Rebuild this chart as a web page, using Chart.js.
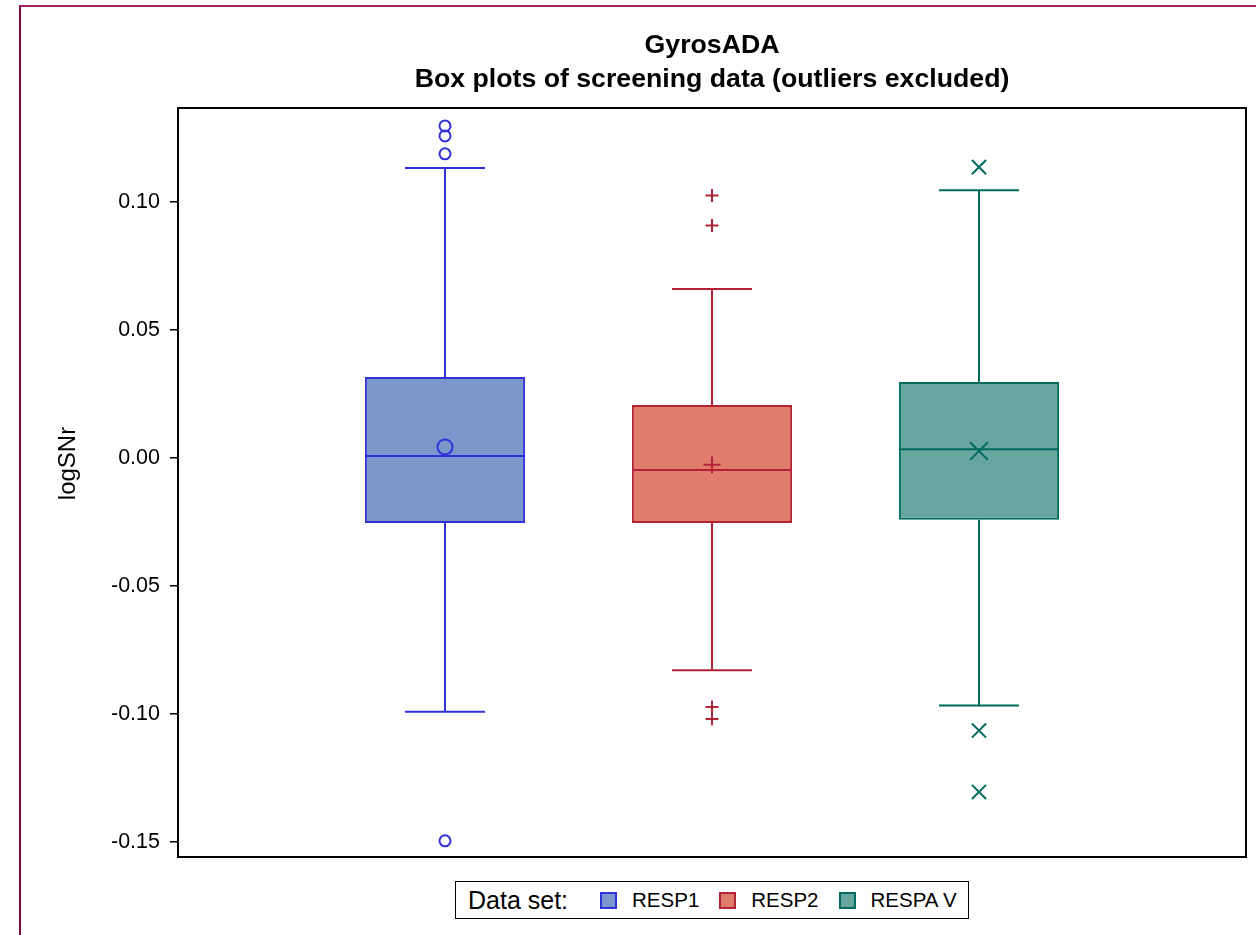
<!DOCTYPE html>
<html>
<head>
<meta charset="utf-8">
<title>GyrosADA box plots</title>
<script src="https://cdn.jsdelivr.net/npm/chart.js@4.4.1/dist/chart.umd.min.js"></script>
<style>
  html, body { margin: 0; padding: 0; background: #fff; }
  body { width: 1256px; height: 935px; position: relative; overflow: hidden;
         font-family: "Liberation Sans", Arial, Helvetica, sans-serif; }
  #page-frame { position: absolute; left: 19px; top: 5px; width: 1300px; height: 1000px;
                border-top: 2px solid #a3236b; border-left: 2px solid #7a1030; box-sizing: border-box; }
  #wrap { position: absolute; left: 0; top: 0; width: 1256px; height: 935px; }
  #legend { position: absolute; top: 881px; height: 38px; box-sizing: border-box;
            border: 1.5px solid #000; background: #fff; display: flex; align-items: center;
            padding: 0 11px 0 12px; white-space: nowrap; color: #000; }
  #legend .lead { font-size: 25px; margin-right: 32px; }
  #legend .sw { width: 13px; height: 13px; border: 2px solid; margin-right: 15px; }
  #legend .lab { font-size: 20.5px; margin-right: 20px; }
  #legend .lab:last-child { margin-right: 0; }
</style>
</head>
<body>
<div id="page-frame"></div>
<div id="wrap"><canvas id="chart"></canvas></div>
<div id="legend"></div>
<script>
// Screening-data summary statistics per data set (logSNr)
const categories  = ['RESP1', 'RESP2', 'RESPA V'];
const q1          = [-0.0254, -0.0254, -0.0242];
const q3          = [ 0.0316,  0.0207,  0.0297];
const medians     = [ 0.0008, -0.0047,  0.0034];
const means       = [ 0.0043, -0.0027,  0.0027];
const whiskerLow  = [-0.0992, -0.0829, -0.0967];
const whiskerHigh = [ 0.1133,  0.0660,  0.1046];
const outliers    = [
  [0.1297, 0.1258, 0.1188, -0.1496],
  [0.1025, 0.0908, -0.0973, -0.1020],
  [0.1136, -0.1065, -0.1305]
];
const yMin = -0.1559;
const yMax = 0.1367;
const yStep = 0.05;
const yTitle = 'logSNr';

// Styling
const strokeColors  = ['#3131d9', '#b42238', '#006b5e'];
const fillColors    = ['#7b97cc', '#df7c6c', '#66a69f'];
const markerStyles  = ['circle', 'cross', 'crossRot'];
const outlierRadius = [5.5, 6.5, 10];
const meanRadius    = [7.5, 8.5, 12.5];
const BOX_HALF = 0.3;   // half box width in x units
const CAP_HALF = 0.15;  // half whisker-cap width in x units
const FONT = '"Liberation Sans", Arial, Helvetica, sans-serif';

Chart.defaults.font.family = FONT;
Chart.defaults.color = '#000';

const datasets = [];
categories.forEach((name, i) => {
  const p = i + 1;
  // box (Q1..Q3) as a floating bar
  datasets.push({
    type: 'bar', label: name, order: 3,
    data: [{ x: p, y: [q1[i], q3[i]] }],
    backgroundColor: fillColors[i], borderColor: strokeColors[i],
    borderWidth: 2, borderSkipped: false, grouped: false,
    barPercentage: BOX_HALF * 2, categoryPercentage: 1
  });
  // whiskers, caps and median line
  datasets.push({
    type: 'line', label: name + ' whiskers', order: 2,
    data: [
      { x: p - CAP_HALF, y: whiskerHigh[i] }, { x: p + CAP_HALF, y: whiskerHigh[i] }, { x: p, y: null },
      { x: p, y: whiskerHigh[i] }, { x: p, y: q3[i] }, { x: p, y: null },
      { x: p, y: q1[i] }, { x: p, y: whiskerLow[i] }, { x: p, y: null },
      { x: p - CAP_HALF, y: whiskerLow[i] }, { x: p + CAP_HALF, y: whiskerLow[i] }, { x: p, y: null },
      { x: p - BOX_HALF, y: medians[i] }, { x: p + BOX_HALF, y: medians[i] }
    ],
    borderColor: strokeColors[i], borderWidth: 2, pointRadius: 0, spanGaps: false,
    tension: 0, fill: false, borderCapStyle: 'butt'
  });
  // mean marker
  datasets.push({
    type: 'scatter', label: name + ' mean', order: 1,
    data: [{ x: p, y: means[i] }],
    pointStyle: markerStyles[i], pointRadius: meanRadius[i],
    pointBorderColor: strokeColors[i], pointBackgroundColor: 'rgba(0,0,0,0)',
    pointBorderWidth: 2, showLine: false
  });
  // outlier markers
  datasets.push({
    type: 'scatter', label: name + ' outliers', order: 1,
    data: outliers[i].map(v => ({ x: p, y: v })),
    pointStyle: markerStyles[i], pointRadius: outlierRadius[i],
    pointBorderColor: strokeColors[i], pointBackgroundColor: 'rgba(0,0,0,0)',
    pointBorderWidth: 2, showLine: false
  });
});

const frameAndLegend = {
  id: 'frameAndLegend',
  afterDraw(chart) {
    const { ctx, chartArea: a } = chart;
    ctx.save();
    // plot frame
    ctx.strokeStyle = '#000';
    ctx.lineWidth = 2;
    ctx.strokeRect(a.left, a.top, a.right - a.left, a.bottom - a.top);
    // vertical axis title, set slightly above the plot's mid-height
    ctx.translate(68, (a.top + a.bottom) / 2 - 19);
    ctx.rotate(-Math.PI / 2);
    ctx.fillStyle = '#000';
    ctx.font = '24px ' + FONT;
    ctx.textAlign = 'center';
    ctx.textBaseline = 'middle';
    ctx.fillText(yTitle, 0, 0);
    ctx.restore();
  },
  afterRender(chart) {
    const el = document.getElementById('legend');
    if (!el.dataset.built) {
      let html = '<span class="lead">Data set:</span>';
      categories.forEach((name, i) => {
        html += '<span class="sw" style="background:' + fillColors[i] + ';border-color:' + strokeColors[i] + '"></span>' +
                '<span class="lab">' + name + '</span>';
      });
      el.innerHTML = html;
      el.dataset.built = '1';
    }
    const a = chart.chartArea;
    const cx = (a.left + a.right) / 2;
    el.style.left = Math.round(cx - el.offsetWidth / 2) + 'px';
  }
};

new Chart(document.getElementById('chart'), {
  type: 'bar',
  data: { datasets },
  plugins: [frameAndLegend],
  options: {
    responsive: true,
    maintainAspectRatio: false,
    animation: false,
    layout: { autoPadding: false, padding: { left: 0, right: 10, top: 0, bottom: 78 } },
    plugins: {
      legend: { display: false },
      tooltip: { enabled: false },
      title: {
        display: true, fullSize: false,
        text: ['GyrosADA', 'Box plots of screening data (outliers excluded)'],
        font: { size: 26.7, weight: 'bold', lineHeight: '34px' },
        color: '#000',
        padding: { top: 29, bottom: 11 }
      }
    },
    scales: {
      x: {
        type: 'linear', min: 0, max: categories.length + 1,
        offset: false,
        display: false,
        ticks: { stepSize: 1, display: false }
      },
      y: {
        type: 'linear', min: yMin, max: yMax,
        afterFit(scale) { scale.width = 178; },
        ticks: {
          stepSize: yStep, includeBounds: false, padding: 10,
          font: { size: 21.5 }, color: '#000',
          callback: v => (Math.abs(v) < 1e-9 ? 0 : v).toFixed(2)
        },
        grid: { drawOnChartArea: false, tickLength: 8, color: '#000', lineWidth: 1.5 },
        border: { display: false },
        title: { display: false }
      }
    }
  }
});
</script>
</body>
</html>
